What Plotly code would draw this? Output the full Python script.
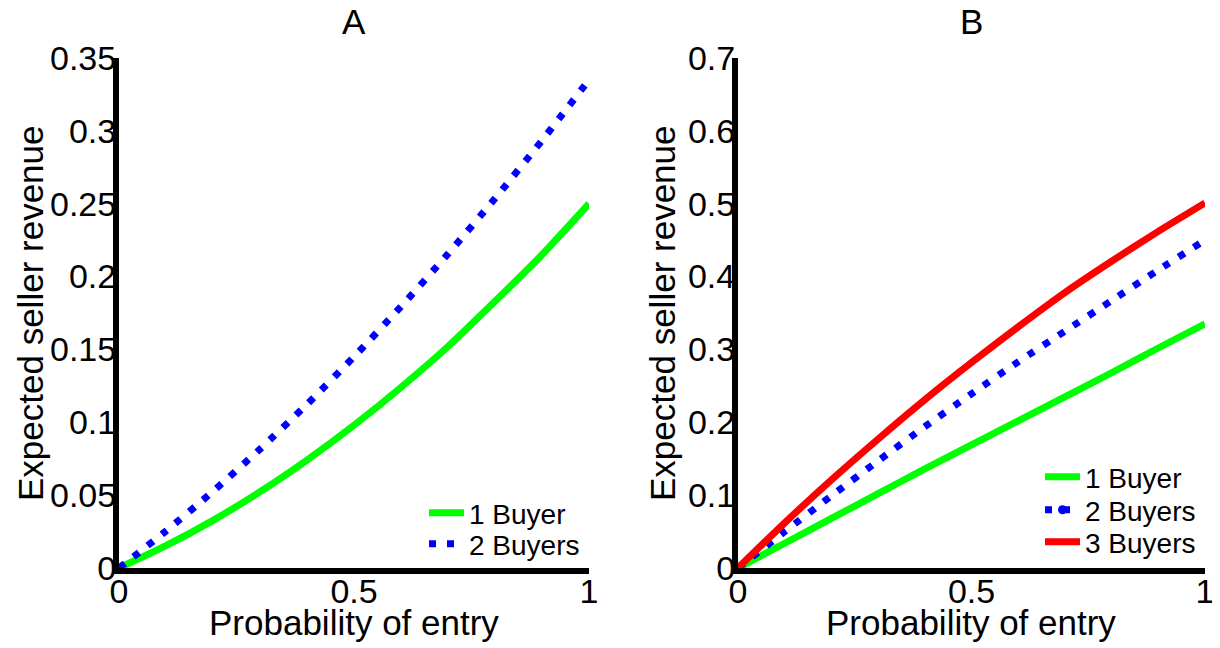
import plotly.graph_objects as go

# ---- data ----
p = [0.0, 0.1, 0.2, 0.3, 0.4, 0.5, 0.6, 0.7, 0.8, 0.9, 1.0]

a_one_buyer = [0.0, 0.0153, 0.0327, 0.0523, 0.0741, 0.098, 0.124, 0.152, 0.183, 0.215, 0.25]
a_two_buyers = [0.0, 0.0254, 0.0526, 0.0816, 0.1124, 0.145, 0.1794, 0.2156, 0.2536, 0.2934, 0.335]

b_one_buyer = [0.0, 0.034, 0.068, 0.102, 0.136, 0.169, 0.202, 0.235, 0.268, 0.302, 0.335]
b_two_buyers = [0.0, 0.050, 0.099, 0.147, 0.194, 0.239, 0.283, 0.325, 0.367, 0.409, 0.45]
b_three_buyers = [0.0, 0.062, 0.121, 0.177, 0.231, 0.282, 0.331, 0.378, 0.421, 0.462, 0.501]

x_ticks = [0, 0.5, 1]
x_ticktext = ["0", "0.5", "1"]
a_yticks = [0, 0.05, 0.1, 0.15, 0.2, 0.25, 0.3, 0.35]
a_yticktext = ["0", "0.05", "0.1", "0.15", "0.2", "0.25", "0.3", "0.35"]
b_yticks = [0, 0.1, 0.2, 0.3, 0.4, 0.5, 0.6, 0.7]
b_yticktext = ["0", "0.1", "0.2", "0.3", "0.4", "0.5", "0.6", "0.7"]

panel_titles = ["A", "B"]
x_title = "Probability of entry"
y_title = "Expected seller revenue"

GREEN = "#00ff00"
BLUE = "#0000ff"
RED = "#ff0000"
LW = 7
DOT = "7px,11px"
FONT = "Liberation Sans, Arial, Helvetica, sans-serif"
TICK_SIZE = 34
TITLE_SIZE = 35
LEG_SIZE = 28

# page body has an 8px margin: work in reference pixels and shift
OFF = 8
W, H = 1220 - OFF, 648 - OFF


def px_x(px):
    return (px - OFF) / W


def px_y(py):
    return (H - (py - OFF)) / H


def line(color, dash=None):
    d = dict(color=color, width=LW, shape="spline", smoothing=0.6)
    if dash:
        d["dash"] = dash
    return d


fig = go.Figure()

# Panel A
fig.add_trace(go.Scatter(x=p, y=a_one_buyer, mode="lines", name="1 Buyer",
                         line=line(GREEN), xaxis="x", yaxis="y",
                         legend="legend", cliponaxis=False))
fig.add_trace(go.Scatter(x=p, y=a_two_buyers, mode="lines", name="2 Buyers",
                         line=line(BLUE, DOT), xaxis="x", yaxis="y",
                         legend="legend2", cliponaxis=False))

# Panel B
fig.add_trace(go.Scatter(x=p, y=b_one_buyer, mode="lines", name="1 Buyer",
                         line=line(GREEN), xaxis="x2", yaxis="y2",
                         legend="legend3", cliponaxis=False))
fig.add_trace(go.Scatter(x=p, y=b_two_buyers, mode="lines", name="2 Buyers",
                         line=line(BLUE, DOT), xaxis="x2", yaxis="y2",
                         showlegend=False, cliponaxis=False))
fig.add_trace(go.Scatter(x=[None], y=[None], mode="lines+markers", name="2 Buyers",
                         line=dict(color=BLUE, width=LW, dash=DOT),
                         marker=dict(color=BLUE, size=9, symbol="circle"),
                         xaxis="x2", yaxis="y2", legend="legend4"))
fig.add_trace(go.Scatter(x=p, y=b_three_buyers, mode="lines", name="3 Buyers",
                         line=line(RED), xaxis="x2", yaxis="y2",
                         legend="legend5", cliponaxis=False))

xa_dom = [px_x(119), px_x(589)]
xb_dom = [px_x(738), px_x(1205)]
y_dom = [px_y(568), px_y(58)]

axis_common = dict(showgrid=False, zeroline=False, showline=True, linecolor="black",
                   linewidth=6, ticks="", mirror=False, automargin=False,
                   tickfont=dict(family=FONT, size=TICK_SIZE, color="black"))
x_extra = dict(ticklabelstandoff=-12)
y_extra = dict(ticklabelstandoff=-10)


def legend_at(xpx, ypx):
    return dict(x=px_x(xpx), y=px_y(ypx), xanchor="left", yanchor="middle",
                bgcolor="rgba(0,0,0,0)", font=dict(family=FONT, size=LEG_SIZE),
                tracegroupgap=0, itemwidth=35, borderwidth=0)


def text_ann(text, xpx, ypx, size, angle=0):
    return dict(text=text, x=px_x(xpx), y=px_y(ypx), xref="paper", yref="paper",
                showarrow=False, textangle=angle, xanchor="center", yanchor="middle",
                font=dict(family=FONT, size=size, color="black"))


fig.update_layout(
    width=W, height=H,
    margin=dict(l=0, r=0, t=0, b=0, autoexpand=False),
    paper_bgcolor="white", plot_bgcolor="white",
    font=dict(family=FONT, color="black"),
    xaxis=dict(domain=xa_dom, range=[0, 1], tickvals=x_ticks, ticktext=x_ticktext,
               anchor="y", **axis_common, **x_extra),
    yaxis=dict(domain=y_dom, range=[0, 0.35], tickvals=a_yticks, ticktext=a_yticktext,
               anchor="x", **axis_common, **y_extra),
    xaxis2=dict(domain=xb_dom, range=[0, 1], tickvals=x_ticks, ticktext=x_ticktext,
                anchor="y2", **axis_common, **x_extra),
    yaxis2=dict(domain=y_dom, range=[0, 0.7], tickvals=b_yticks, ticktext=b_yticktext,
                anchor="x2", **axis_common, **y_extra),
    legend=legend_at(424, 513),
    legend2=legend_at(424, 544),
    legend3=legend_at(1040, 477),
    legend4=legend_at(1040, 510),
    legend5=legend_at(1040, 542),
    showlegend=True,
    annotations=[
        text_ann(panel_titles[0], 354, 22, TITLE_SIZE),
        text_ann(panel_titles[1], 971, 22, TITLE_SIZE),
        text_ann(x_title, 354, 622, TITLE_SIZE),
        text_ann(x_title, 971, 622, TITLE_SIZE),
        text_ann(y_title, 30, 313, TITLE_SIZE, -90),
        text_ann(y_title, 662, 313, TITLE_SIZE, -90),
    ],
)

fig.write_html("out.html")
